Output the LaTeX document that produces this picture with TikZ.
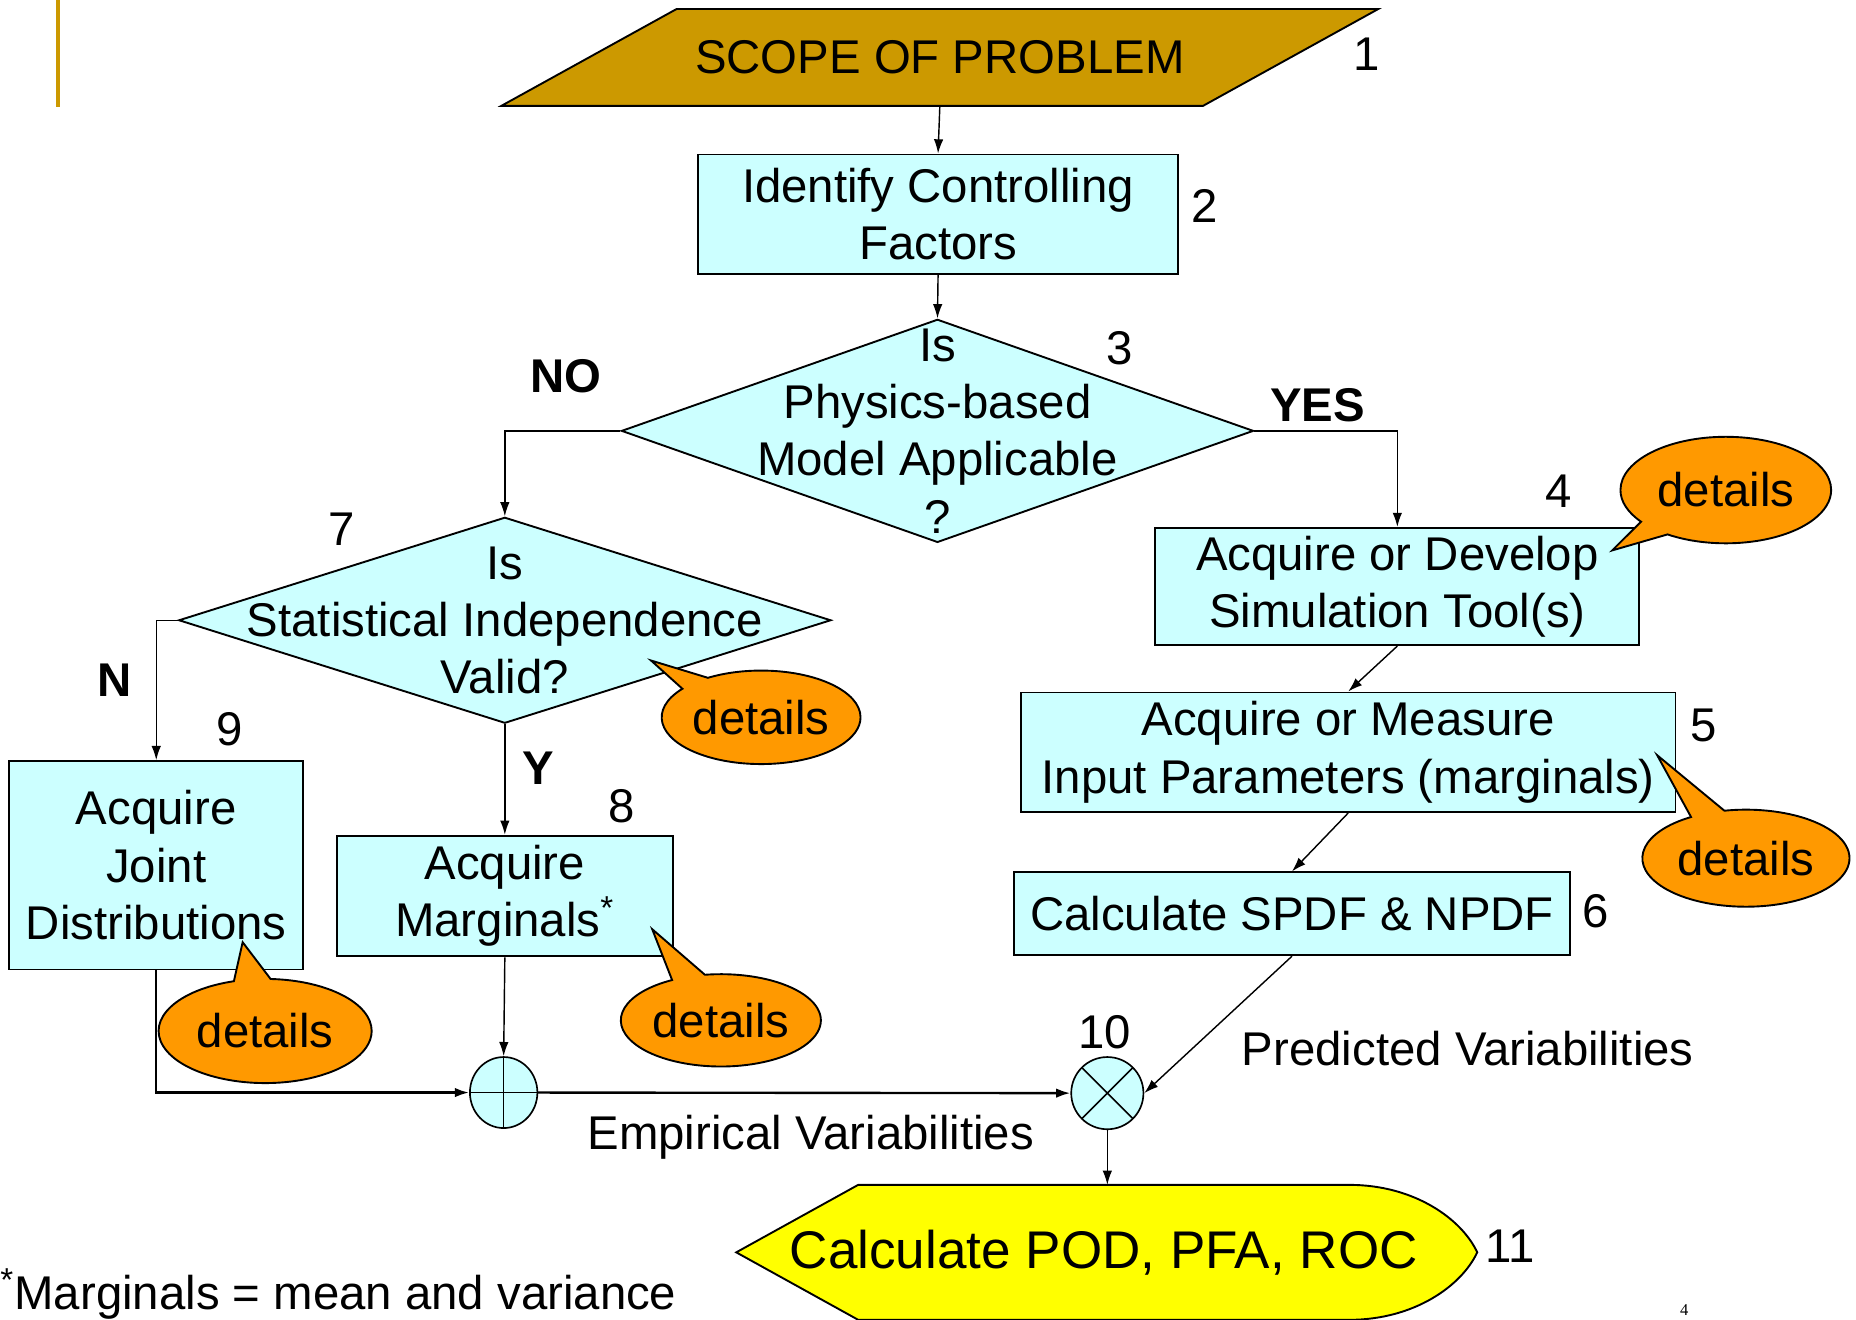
\documentclass[tikz,border=0pt]{standalone}
\usepackage{fontspec}
\setmainfont{Liberation Sans}
\newfontfamily\pagefont{Liberation Serif}
\usetikzlibrary{arrows.meta,shapes.geometric,shapes.callouts,calc,backgrounds}
\definecolor{boxcyan}{HTML}{CCFFFF}
\definecolor{calloutorange}{HTML}{FF9900}
\definecolor{scopegold}{HTML}{CC9900}
\definecolor{resultyellow}{HTML}{FFFF00}
\newcommand{\chartfont}{\fontsize{20}{24.2}\selectfont}
\tikzset{
    proc-box/.style={
        rectangle,
        draw=black,
        fill=boxcyan,
        line width=0.8pt,
        inner sep=0pt,
        align=center,
        font=\chartfont
    },
    decision-box/.style={
        diamond,
        draw=black,
        fill=boxcyan,
        line width=0.8pt,
        inner sep=0pt
    },
    details-callout/.style={
        ellipse callout,
        draw=black,
        fill=calloutorange,
        line width=0.8pt,
        inner sep=0pt,
        callout pointer arc=20,
        font=\chartfont
    },
    sum-point/.style={
        ellipse,
        draw=black,
        fill=boxcyan,
        line width=0.7pt,
        inner sep=0pt,
        path picture={
            \draw (path picture bounding box.north) -- (path picture bounding box.south)
                  (path picture bounding box.west) -- (path picture bounding box.east);
        }
    },
    mix-point/.style={
        circle,
        draw=black,
        fill=boxcyan,
        line width=0.7pt,
        inner sep=0pt,
        path picture={
            \draw (path picture bounding box.north west) -- (path picture bounding box.south east)
                  (path picture bounding box.north east) -- (path picture bounding box.south west);
        }
    },
    numlabel/.style={font=\chartfont},
    branchlabel/.style={font=\chartfont\bfseries},
    flow/.style={
        draw,
        ->,>={Latex[length=6pt,width=4pt]},
        line width=0.6pt
    },
}

\begin{document}
\begin{tikzpicture}[x=0.5pt,y=-0.5pt]

       \clip (0,0) rectangle (1568,1115);
       \draw[scopegold,line width=1.5pt] (49,0) -- (49,90);

       \node[inner sep=0pt,minimum width=296pt,minimum height=40.5pt,font=\chartfont] (scope) at (794,48.5) {SCOPE OF PROBLEM};
       \node[proc-box,minimum width=202.5pt,minimum height=50.5pt] (ident) at (792.5,181) {Identify Controlling\\Factors};

       % physics branch
       \node[decision-box,minimum width=267pt,minimum height=94.25pt] (phys) at (792,364) {};
       \node[align=center,font=\chartfont] (physq) at (phys) {Is\\Physics-based\\Model Applicable\\?};
       \node[proc-box,minimum width=204.5pt,minimum height=49.5pt] (sim) at (1180.5,495.5) {Acquire or Develop\\Simulation Tool(s)};
       \node[proc-box,minimum width=276.5pt,minimum height=50.5pt] (meas) at (1139,635.5) {Acquire or Measure\\Input Parameters (marginals)};
       \node[proc-box,minimum width=234.5pt,minimum height=35pt] (spdf) at (1091.5,772) {Calculate SPDF \& NPDF};

       % empirical branch
       \node[decision-box,minimum width=275.5pt,minimum height=87pt] (indep) at (426.5,524) {};
       \node[align=center,font=\chartfont] (indepq) at (indep) {Is\\Statistical Independence\\Valid?};
       \node[proc-box,minimum width=124.25pt,minimum height=88pt] (joint) at (132,731) {Acquire\\Joint\\Distributions};
       \node[proc-box,minimum width=142pt,minimum height=51pt] (marg) at (426.5,757) {Acquire\\Marginals\textsuperscript{*}};

       \node[sum-point,minimum width=28.5pt,minimum height=30pt] (sum) at (425.5,923) {};
       \node[mix-point,minimum size=30.5pt] (mix) at (935.5,923.5) {};
       \node[inner sep=0pt,font=\fontsize{22.4}{26}\selectfont] (calc) at (932.5,1058) {Calculate POD, PFA, ROC};

       \begin{scope}[on background layer]
       \draw[fill=scopegold,line width=0.8pt] ($(scope.south west)+(-74,0)$) -- ($(scope.south east)+(-74,0)$)
           -- ($(scope.north east)+(74,0)$) -- ($(scope.north west)+(74,0)$) -- cycle;
       \draw[fill=resultyellow,line width=0.8pt] ($(calc.center)+(-207.5,-57)$) -- ($(calc.center)+(207.5,-57)$)
           .. controls ($(calc.center)+(262.5,-57)$) and ($(calc.center)+(302.5,-28)$) .. ($(calc.center)+(315.5,0)$)
           .. controls ($(calc.center)+(302.5,28)$) and ($(calc.center)+(262.5,57)$) .. ($(calc.center)+(207.5,57)$)
           -- ($(calc.center)+(-207.5,57)$) -- ($(calc.center)+(-310.5,0)$) -- cycle;
       \end{scope}

       \draw[flow] (scope.south) -- (ident.north);
       \draw[flow] (ident.south) -- (phys.north);
       \draw[flow] (phys.west) -| (indep.north);
       \draw[flow] (phys.east) -| (sim.north);
       \draw[flow] (sim.south) -- (meas.north);
       \draw[flow] (meas.south) -- (spdf.north);
       \draw[flow] (indep.west) -| (joint.north);
       \draw[flow] (indep.south) -- (marg.north);
       \draw[flow] (marg.south) -- (sum.north);
       \draw[flow,line width=1pt] (joint.south) |- (sum.west);
       \draw[flow,line width=1pt] (sum.east) -- (mix.west);
       \draw[flow] (spdf.south) -- (mix.east);
       \draw[flow] (mix.south) -- ($(calc.center)+(3,-57)$);

       \node[details-callout,minimum width=89pt,minimum height=45pt,callout absolute pointer={(1362,465)}] (simdet) at (1458,414) {details};
       \node[details-callout,minimum width=87.5pt,minimum height=41pt,callout absolute pointer={(1400,638)}] (measdet) at (1475,725) {details};
       \node[details-callout,minimum width=84pt,minimum height=39.5pt,callout absolute pointer={(550,558)}] (indepdet) at (643,606) {details};
       \node[details-callout,minimum width=90pt,minimum height=44pt,callout absolute pointer={(205,796)}] (jointdet) at (224,871) {details};
       \node[details-callout,minimum width=84.5pt,minimum height=39pt,callout absolute pointer={(551,785)}] (margdet) at (609,862) {details};

       \node[numlabel] (n1) at (1155,46) {1};
       \node[numlabel] (n2) at (1018,174) {2};
       \node[numlabel] (n3) at (946,294) {3};
       \node[numlabel] (n4) at (1317,415) {4};
       \node[numlabel] (n5) at (1439,613) {5};
       \node[numlabel] (n6) at (1348,770) {6};
       \node[numlabel] (n7) at (289,447) {7};
       \node[numlabel] (n8) at (525,681) {8};
       \node[numlabel] (n9) at (194,616) {9};
       \node[numlabel] (n10) at (933,872) {10};
       \node[numlabel] (n11) at (1276,1053) {11};

       \node[branchlabel] (nolbl) at (478,318) {NO};
       \node[branchlabel] (yeslbl) at (1113,342) {YES};
       \node[branchlabel] (nlbl) at (97,575) {N};
       \node[branchlabel] (ylbl) at (455,649) {Y};

       \node[font=\chartfont] (predlbl) at (1240,886) {Predicted Variabilities};
       \node[font=\chartfont] (emplbl) at (685,961) {Empirical Variabilities};
       \node[anchor=base west,inner sep=0pt,font=\chartfont] (footnote) at (0,1106) {\textsuperscript{*}Marginals = mean and variance};
       \node[font=\pagefont\fontsize{7}{8}\selectfont] (pagenum) at (1423,1107) {4};

\end{tikzpicture}
\end{document}
